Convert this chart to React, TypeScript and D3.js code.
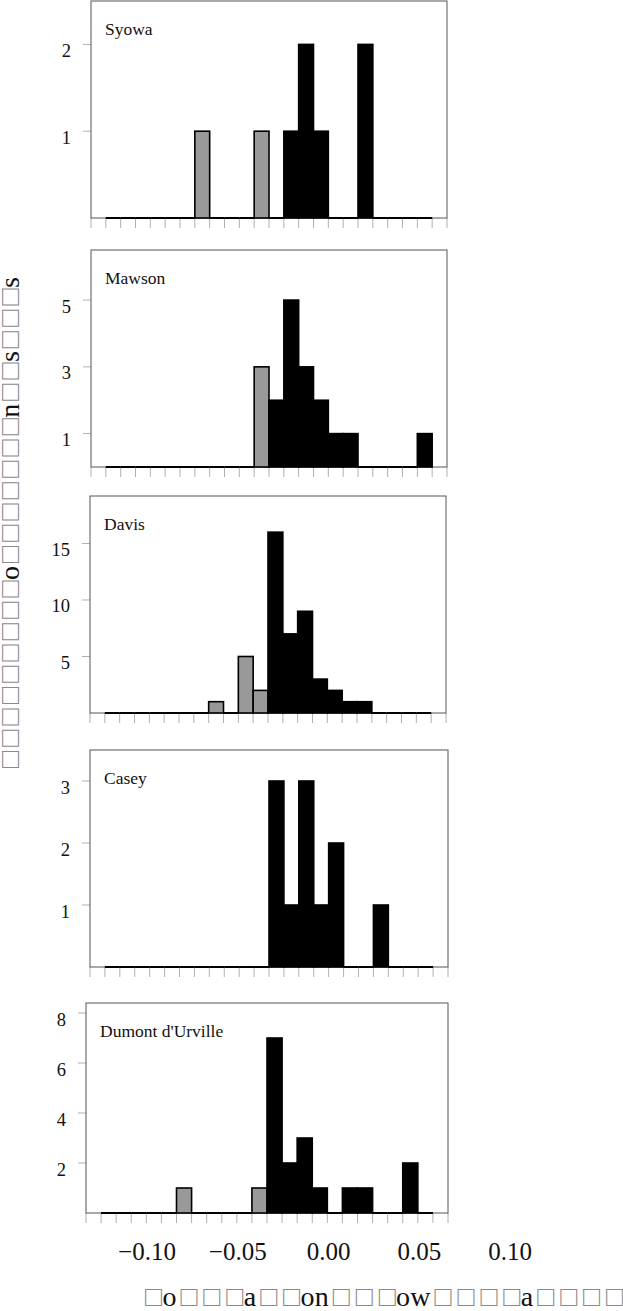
import React from 'react';
import * as d3 from 'd3';

// ---- data ----
const stations = ['Syowa', 'Mawson', 'Davis', 'Casey', "Dumont d'Urville"];
const binStart = -0.11;
const binWidth = 0.01;
const syowa = [0, 0, 0, 0, 0, 0, 1, 0, 0, 0, 1, 0, 1, 2, 1, 0, 0, 2, 0, 0, 0, 0];
const mawson = [0, 0, 0, 0, 0, 0, 0, 0, 0, 0, 3, 2, 5, 3, 2, 1, 1, 0, 0, 0, 0, 1];
const davis = [0, 0, 0, 0, 0, 0, 0, 1, 0, 5, 2, 16, 7, 9, 3, 2, 1, 1, 0, 0, 0, 0];
const casey = [0, 0, 0, 0, 0, 0, 0, 0, 0, 0, 0, 3, 1, 3, 1, 2, 0, 0, 1, 0, 0, 0];
const dumont = [0, 0, 0, 0, 0, 1, 0, 0, 0, 0, 1, 7, 2, 3, 1, 0, 1, 1, 0, 0, 2, 0];
const counts = [syowa, mawson, davis, casey, dumont];
const yMax = [2.5, 6.5, 19.2, 3.5, 8.4];
const yTickValues = [[1, 2], [1, 3, 5], [5, 10, 15], [1, 2, 3], [2, 4, 6, 8]];
const xTickValues = [-0.1, -0.05, 0, 0.05, 0.1];
const xTitle = '□o□□□a□□on□□□ow□□□□a□□□□';
const yTitle = '□□□□□□□□□o□□□□□□□n□□s□□□s';

// ---- layout ----
const W = 623;
const H = 1311;
const frames = [
  { l: 91, r: 447, t: 1, b: 218 },
  { l: 91, r: 447, t: 250, b: 467 },
  { l: 90, r: 446, t: 496, b: 713 },
  { l: 90, r: 448, t: 750, b: 967 },
  { l: 86, r: 448, t: 1003, b: 1213 },
];
const FONT = 'Liberation Serif';

function Title({
  text,
  fill,
  boxBox,
  boxLetter,
  letterBox,
}: {
  text: string;
  fill: string;
  boxBox: number;
  boxLetter: number;
  letterBox: number;
}) {
  const chars = Array.from(text);
  return (
    <>
      {chars.map((c, i) => {
        const isBox = c === '□';
        const next = chars[i + 1];
        const nextBox = next === '□';
        let ls = 0.3;
        if (isBox && nextBox) ls = boxBox;
        else if (isBox && !nextBox) ls = boxLetter;
        else if (!isBox && nextBox) ls = letterBox;
        return (
          <tspan key={i} fill={isBox ? '#8a8a8a' : fill} letterSpacing={ls}>
            {c}
          </tspan>
        );
      })}
    </>
  );
}

function Panel({ idx }: { idx: number }) {
  const f = frames[idx];
  const data = counts[idx];
  const x = d3.scaleLinear().domain([-0.12, 0.12]).range([f.l, f.r]);
  const y = d3.scaleLinear().domain([0, yMax[idx]]).range([f.b, f.t]);
  const minorTicks = d3.range(25).map((k) => -0.12 + k * 0.01);
  return (
    <g>
      {minorTicks.map((v, k) => (
        <line key={'mt' + k} x1={x(v)} x2={x(v)} y1={f.b} y2={f.b + 10} stroke="#b0b0b0" strokeWidth={1} />
      ))}
      {yTickValues[idx].map((v) => (
        <g key={'yt' + v}>
          <line x1={f.l - 8} x2={f.l} y1={y(v)} y2={y(v)} stroke="#b0b0b0" strokeWidth={1} />
          <text x={f.l - 20} y={y(v) + 12.5} textAnchor="end" fontSize={18.5} fontFamily={FONT} fill="#111">
            {v}
          </text>
        </g>
      ))}
      <rect x={f.l} y={f.t} width={f.r - f.l} height={f.b - f.t} fill="none" stroke="#555" strokeWidth={1} />
      {data.map((c, i) => {
        const x0 = x(binStart + i * binWidth);
        const x1 = x(binStart + (i + 1) * binWidth);
        if (c === 0) {
          return <line key={'b' + i} x1={x0} x2={x1} y1={f.b} y2={f.b} stroke="#000" strokeWidth={2} />;
        }
        const neg = binStart + (i + 1) * binWidth <= 1e-9;
        return (
          <rect
            key={'b' + i}
            x={x0}
            y={y(c)}
            width={x1 - x0}
            height={f.b - y(c)}
            fill={neg ? '#999' : '#000'}
            stroke="#000"
            strokeWidth={1.6}
          />
        );
      })}
      <text x={f.l + 14} y={f.t + 34} fontSize={17.5} fontFamily={FONT} fill="#111">
        {stations[idx]}
      </text>
    </g>
  );
}

export default function App() {
  const labelScale = d3.scaleLinear().domain([-0.1, 0.1]).range([147, 510]);
  const fmt = d3.format('.2f');
  return (
    <svg
      width={W}
      height={H}
      viewBox={`0 0 ${W} ${H}`}
      style={{ position: 'absolute', left: 0, top: 0, background: '#fff' }}
    >
      <rect x={0} y={0} width={W} height={H} fill="#fff" />
      {frames.map((_, i) => (
        <Panel key={i} idx={i} />
      ))}
      {xTickValues.map((v) => (
        <text key={'xl' + v} x={labelScale(v)} y={1260} textAnchor="middle" fontSize={25} fontFamily={FONT} fill="#111">
          {fmt(v).replace('-', '\u2212')}
        </text>
      ))}
      <text x={145} y={1306} fontSize={28} fontFamily={FONT}>
        <Title text={xTitle} fill="#111" boxBox={6} boxLetter={0.5} letterBox={4} />
      </text>
      <text transform="translate(19,768) rotate(-90)" x={0} y={0} fontSize={28} fontFamily={FONT}>
        <Title text={yTitle} fill="#111" boxBox={4.4} boxLetter={0.5} letterBox={3} />
      </text>
    </svg>
  );
}
